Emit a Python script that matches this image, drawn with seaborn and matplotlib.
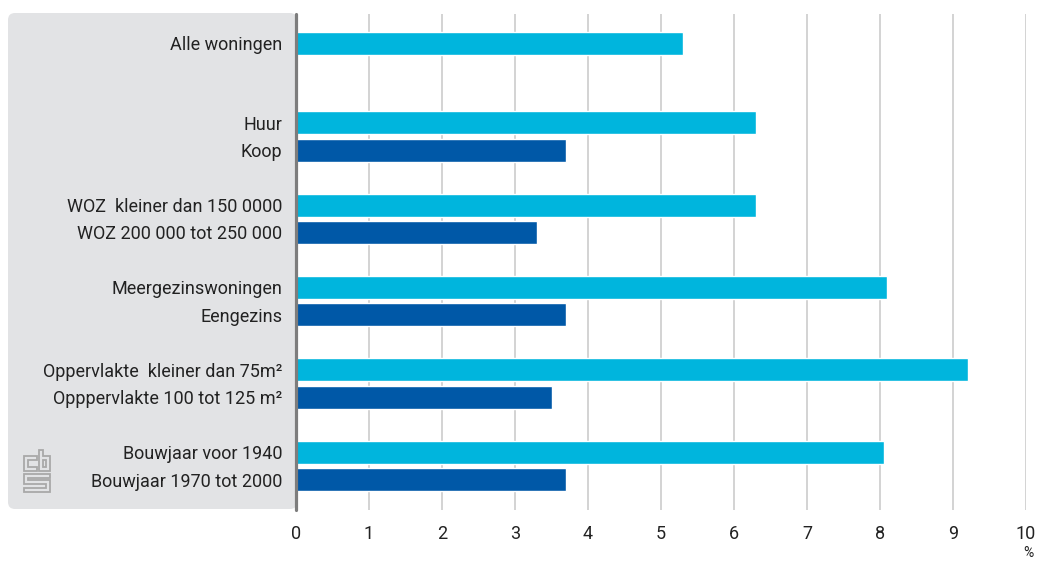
import matplotlib
matplotlib.use("Agg")
import matplotlib.pyplot as plt
from matplotlib.patches import FancyBboxPatch, Polygon
from matplotlib.transforms import IdentityTransform
import seaborn as sns
import pandas as pd

# --- data -------------------------------------------------------------
labels = [
    "Alle woningen",
    "Huur",
    "Koop",
    "WOZ  kleiner dan 150 0000",
    "WOZ 200 000 tot 250 000",
    "Meergezinswoningen",
    "Eengezins",
    "Oppervlakte  kleiner dan 75m²",
    "Opppervlakte 100 tot 125 m²",
    "Bouwjaar voor 1940",
    "Bouwjaar 1970 tot 2000",
]
values = [5.3, 6.3, 3.7, 6.3, 3.3, 8.1, 3.7, 9.2, 3.5, 8.05, 3.7]
series = ["licht", "licht", "donker", "licht", "donker", "licht", "donker",
          "licht", "donker", "licht", "donker"]
groups = [0, 1, 1, 2, 2, 3, 3, 4, 4, 5, 5]
xticks = list(range(0, 11))

colors = {"licht": "#00b5dd", "donker": "#0058a7"}

# --- layout helpers ----------------------------------------------------
W, H = 1039, 562
positions = []
for i, g in enumerate(groups):
    j = groups[:i].count(g)
    positions.append(0.0 if g == 0 else 2.9 + 3.0 * (g - 1) + j)

df = pd.DataFrame({"label": labels, "waarde": values, "reeks": series, "pos": positions})

sns.set_theme(style="white")
plt.rcParams["font.family"] = ["Roboto", "DejaVu Sans"]

fig = plt.figure(figsize=(W / 100, H / 100), dpi=100)
ax_left, ax_right, ax_top, ax_bottom = 296, 1026, 14, 510
ax = fig.add_axes([ax_left / W, (H - ax_bottom) / H,
                   (ax_right - ax_left) / W, (ax_bottom - ax_top) / H])
ax.set_facecolor("none")

sns.barplot(data=df, x="waarde", y="pos", hue="reeks", orient="h",
            native_scale=True, dodge=False, palette=colors, width=0.84,
            saturation=1, legend=False, ax=ax, zorder=3)

ax.set_xlim(0, 10)
ax.set_ylim(17.01, -1.06)
ax.set_xticks(xticks)
ax.set_xticklabels([str(t) for t in xticks])
ax.set_yticks(positions)
ax.set_yticklabels(labels)
ax.set_xlabel("")
ax.set_ylabel("")

for s in ax.spines.values():
    s.set_visible(False)
ax.tick_params(axis="both", length=0, labelsize=13, colors="#222222")
ax.tick_params(axis="y", pad=10)
ax.tick_params(axis="x", pad=11)
ax.grid(axis="x", color="#cccccc", lw=1.2, zorder=0)
ax.grid(axis="y", visible=False)
ax.set_axisbelow(True)
ax.axvline(0, color="#7d7d7d", lw=2.3, zorder=4, clip_on=False)

# grey label panel behind the category names
pix = IdentityTransform()
panel = FancyBboxPatch((8, H - 509), 289, 496,
                       boxstyle="round,pad=0,rounding_size=7",
                       fc="#e2e3e5", ec="none", transform=pix, zorder=-2)
fig.add_artist(panel)

# small cbs mark in the panel corner
logo_kw = dict(closed=True, fill=False, ec="#a9a9a9", lw=1.3, transform=pix, zorder=-1)
def px(points):
    return [(x, H - y) for x, y in points]
fig.add_artist(Polygon(px([(37, 456), (24, 456), (24, 471), (37, 471), (37, 467),
                           (28, 467), (28, 460), (37, 460)]), **logo_kw))
fig.add_artist(Polygon(px([(39, 450), (43, 450), (43, 456), (50, 456), (50, 471),
                           (39, 471)]), **logo_kw))
fig.add_artist(Polygon(px([(43, 460), (46, 460), (46, 467), (43, 467)]), **logo_kw))
fig.add_artist(Polygon(px([(50, 474), (24, 474), (24, 484), (46, 484), (46, 488),
                           (24, 488), (24, 492), (50, 492), (50, 480), (28, 480),
                           (28, 478), (50, 478)]), **logo_kw))

fig.text(1028 / W, (H - 553) / H, "%", ha="center", va="center",
         fontsize=10, color="#222222")

fig.savefig("out.png", dpi=100)
